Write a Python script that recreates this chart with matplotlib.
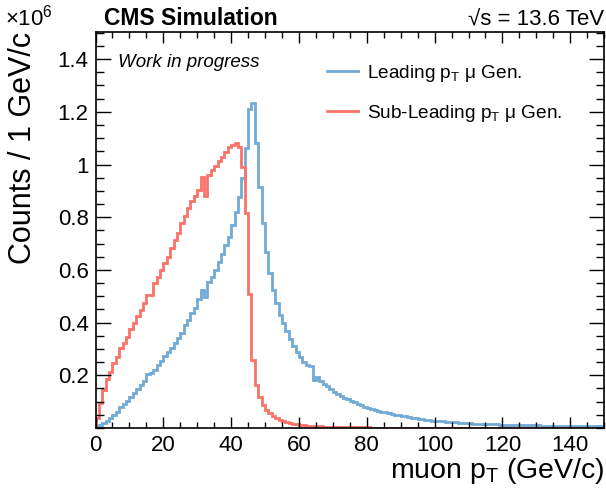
import numpy as np
import matplotlib
matplotlib.use("Agg")
import matplotlib.pyplot as plt
from matplotlib.ticker import MultipleLocator, FuncFormatter

plt.rcParams['font.family'] = ['Liberation Sans', 'DejaVu Sans']
plt.rcParams['mathtext.fontset'] = 'custom'
plt.rcParams['mathtext.rm'] = 'Liberation Sans'
plt.rcParams['mathtext.it'] = 'Liberation Sans:italic'
plt.rcParams['mathtext.bf'] = 'Liberation Sans:bold'

# muon pT histograms, 1 GeV bins from 0 to 150, counts in units of 1e6
bin_edges = np.arange(0, 151, 1)

leading_counts = [
    0.005, 0.010, 0.018, 0.026, 0.037, 0.050, 0.062, 0.078, 0.090, 0.104,
    0.118, 0.133, 0.148, 0.163, 0.178, 0.205, 0.210, 0.220, 0.240, 0.255,
    0.272, 0.288, 0.305, 0.321, 0.343, 0.362, 0.390, 0.410, 0.435, 0.455,
    0.490, 0.525, 0.498, 0.555, 0.575, 0.600, 0.630, 0.660, 0.695, 0.726,
    0.770, 0.818, 0.878, 0.950, 1.062, 1.210, 1.232, 1.083, 0.916, 0.777,
    0.667, 0.589, 0.524, 0.473, 0.429, 0.398, 0.368, 0.337, 0.311, 0.290,
    0.271, 0.252, 0.240, 0.235, 0.182, 0.195, 0.178, 0.168, 0.158, 0.148,
    0.138, 0.130, 0.122, 0.115, 0.109, 0.103, 0.097, 0.091, 0.086, 0.081,
    0.077, 0.073, 0.069, 0.065, 0.062, 0.059, 0.056, 0.053, 0.050, 0.048,
    0.046, 0.044, 0.041, 0.039, 0.037, 0.035, 0.033, 0.031, 0.030, 0.028,
    0.027, 0.026, 0.025, 0.024, 0.023, 0.022, 0.021, 0.020, 0.019, 0.018,
    0.0175, 0.017, 0.0165, 0.016, 0.0155, 0.015, 0.0145, 0.014, 0.0135, 0.013,
    0.0127, 0.0123, 0.012, 0.0117, 0.0113, 0.011, 0.0107, 0.0104, 0.0101, 0.0098,
    0.0095, 0.0093, 0.0091, 0.0089, 0.0087, 0.0085, 0.0083, 0.0081, 0.0079, 0.0077,
    0.0075, 0.0073, 0.0071, 0.0069, 0.0068, 0.0066, 0.0064, 0.0063, 0.0061, 0.0060,
]

subleading_counts = [
    0.037, 0.094, 0.144, 0.185, 0.214, 0.246, 0.271, 0.302, 0.321, 0.346,
    0.375, 0.397, 0.425, 0.448, 0.473, 0.505, 0.505, 0.549, 0.574, 0.600,
    0.625, 0.650, 0.682, 0.713, 0.742, 0.777, 0.803, 0.834, 0.860, 0.880,
    0.903, 0.951, 0.880, 0.960, 0.980, 0.994, 1.014, 1.030, 1.049, 1.065,
    1.074, 1.083, 1.065, 0.990, 0.815, 0.508, 0.258, 0.163, 0.119, 0.087,
    0.068, 0.056, 0.046, 0.038, 0.031, 0.026, 0.022, 0.019, 0.016, 0.014,
    0.012, 0.0105, 0.0093, 0.0082, 0.0073, 0.0065, 0.0058, 0.0052, 0.0047, 0.0043,
    0.0039, 0.0036, 0.0033, 0.0031, 0.0029, 0.0027, 0.0025, 0.0024, 0.0022, 0.0021,
    0.0020, 0.0019, 0.0018, 0.0017, 0.0016, 0.0015, 0.0015, 0.0014, 0.0013, 0.0013,
    0.0012, 0.0012, 0.0011, 0.0011, 0.0010, 0.0010, 0.0010, 0.0009, 0.0009, 0.0009,
    0.0008, 0.0008, 0.0008, 0.0008, 0.0007, 0.0007, 0.0007, 0.0007, 0.0007, 0.0006,
    0.0006, 0.0006, 0.0006, 0.0006, 0.0006, 0.0005, 0.0005, 0.0005, 0.0005, 0.0005,
    0.0005, 0.0005, 0.0004, 0.0004, 0.0004, 0.0004, 0.0004, 0.0004, 0.0004, 0.0004,
    0.0004, 0.0003, 0.0003, 0.0003, 0.0003, 0.0003, 0.0003, 0.0003, 0.0003, 0.0003,
    0.0003, 0.0003, 0.0003, 0.0003, 0.0003, 0.0003, 0.0003, 0.0003, 0.0003, 0.0003,
]

series_labels = [r"Leading p$_{\mathrm{T}}$ μ Gen.", r"Sub-Leading p$_{\mathrm{T}}$ μ Gen."]
x_ticks = [0, 20, 40, 60, 80, 100, 120, 140]
y_ticks = [0.2, 0.4, 0.6, 0.8, 1.0, 1.2, 1.4]

blue = "#72aad6"
red = "#fa7268"

fig = plt.figure(figsize=(6.06, 4.94), dpi=100)
ax = fig.add_axes([0.1576, 0.1336, 0.8394, 0.8016])

ax.stairs(leading_counts, bin_edges, color=blue, lw=2.0, label=series_labels[0])
ax.stairs(subleading_counts, bin_edges, color=red, lw=2.0, label=series_labels[1])

ax.set_xlim(0, 150)
ax.set_ylim(0, 1.503)

ax.set_xticks(x_ticks)
ax.set_yticks(y_ticks)
ax.xaxis.set_minor_locator(MultipleLocator(5))
ax.yaxis.set_minor_locator(MultipleLocator(0.05))
ax.yaxis.set_major_formatter(FuncFormatter(lambda v, p: "%g" % round(v, 2)))

ax.tick_params(axis='both', which='both', direction='in', top=True, right=True,
               labelsize=16, width=1, color='black')
ax.tick_params(axis='x', which='major', length=8, pad=5)
ax.tick_params(axis='x', which='minor', length=4)
ax.tick_params(axis='y', which='major', length=11, pad=5)
ax.tick_params(axis='y', which='minor', length=5.5)
for s in ax.spines.values():
    s.set_linewidth(1.2)

fig.text(0.997, 0.032, r"muon p$_{\mathrm{T}}$ (GeV/c)", ha='right', va='baseline', fontsize=20.5)
fig.text(0.038, 0.935, "Counts / 1 GeV/c", rotation=90, ha='center', va='top', fontsize=22)

fig.text(0.008, 0.949, r"×10$^{6}$", ha='left', va='baseline', fontsize=16)
fig.text(0.171, 0.949, "CMS Simulation", ha='left', va='baseline', fontsize=16.5, fontweight='bold')
fig.text(0.997, 0.949, "√s = 13.6 TeV", ha='right', va='baseline', fontsize=16)

ax.text(0.044, 0.924, "Work in progress", transform=ax.transAxes, fontsize=13.5,
        style='italic', ha='left', va='center')

ax.legend(loc='upper left', bbox_to_anchor=(0.455, 0.922), frameon=False, fontsize=13.7,
          handlelength=1.65, handletextpad=0.45, labelspacing=1.0, borderpad=0,
          borderaxespad=0)

fig.savefig("out.png", dpi=100)
